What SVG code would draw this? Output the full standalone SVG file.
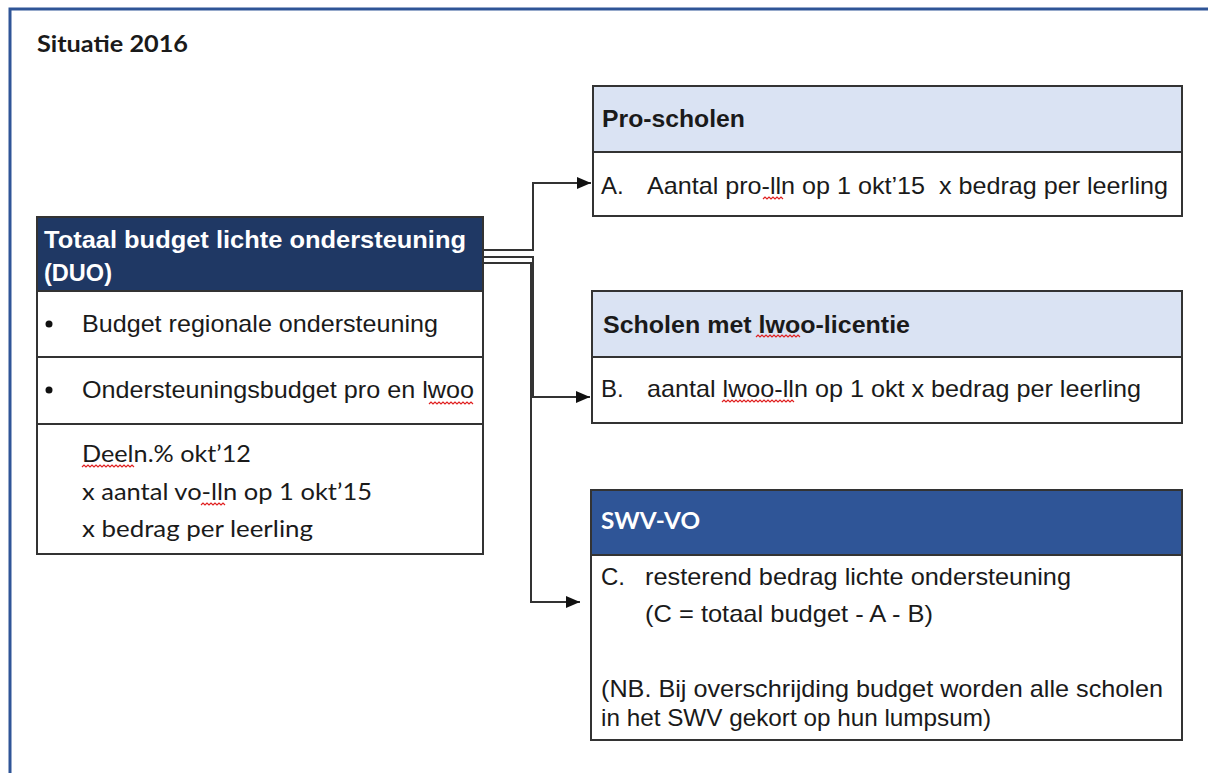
<svg xmlns="http://www.w3.org/2000/svg" width="1208" height="773" viewBox="0 0 1208 773">
<defs>
<marker id="arr" viewBox="0 0 14 12" refX="14" refY="6" markerWidth="14" markerHeight="12" markerUnits="userSpaceOnUse" orient="auto">
<path d="M0,0 L14,6 L0,12 Z" fill="#111"/>
</marker>
<style>
.box{fill:#fff;stroke:#333;stroke-width:2}
.hdark{fill:#1F3864;stroke:#333;stroke-width:2}
.hblue{fill:#2F5597;stroke:#333;stroke-width:2}
.hlight{fill:#DAE3F3;stroke:#333;stroke-width:2}
.ar{font-family:"Liberation Sans",Arial,sans-serif;font-size:24px;fill:#1a1a1a}
.arb{font-family:"Liberation Sans",Arial,sans-serif;font-size:24px;font-weight:bold;fill:#1a1a1a}
.cal{font-family:Lato,"Open Sans",sans-serif;font-size:23px;fill:#1a1a1a}
.calb{font-family:Lato,"Open Sans",sans-serif;font-size:23px;font-weight:bold;fill:#1a1a1a}
.w{fill:#fff}
.conn{fill:none;stroke:#333;stroke-width:2}
.sq{fill:none;stroke:#e02020;stroke-width:1.2}
</style>
</defs>
<rect width="1208" height="773" fill="#fff"/>
<path d="M10,773 V9 H1208" fill="none" stroke="#2F5597" stroke-width="3"/>
<text class="calb" x="37" y="52" textLength="151" lengthAdjust="spacingAndGlyphs">Situatie 2016</text>

<g id="connectors">
<path class="conn" d="M483,250 H533 V183 H591" marker-end="url(#arr)"/>
<path class="conn" d="M483,257 H533 V397 H590" marker-end="url(#arr)"/>
<path class="conn" d="M483,263 H531 V602 H580" marker-end="url(#arr)"/>
</g>

<g id="totaal">
<rect class="hdark" x="37" y="217" width="446" height="74"/>
<rect class="box" x="37" y="291" width="446" height="66"/>
<rect class="box" x="37" y="357" width="446" height="67"/>
<rect class="box" x="37" y="424" width="446" height="130"/>
<text class="arb w" x="44" y="248" textLength="422" lengthAdjust="spacingAndGlyphs">Totaal budget lichte ondersteuning</text>
<text class="arb w" x="44" y="281" textLength="68" lengthAdjust="spacingAndGlyphs">(DUO)</text>
<circle cx="49" cy="324" r="3.5" fill="#111"/>
<text class="ar" x="82" y="332" textLength="356" lengthAdjust="spacingAndGlyphs">Budget regionale ondersteuning</text>
<circle cx="49" cy="390" r="3.5" fill="#111"/>
<text class="ar" x="82" y="398" textLength="392" lengthAdjust="spacingAndGlyphs">Ondersteuningsbudget pro en lwoo</text>
<path class="sq" d="M429,404 l2,-2 l2,2 l2,-2 l2,2 l2,-2 l2,2 l2,-2 l2,2 l2,-2 l2,2 l2,-2 l2,2 l2,-2 l2,2 l2,-2 l2,2 l2,-2 l2,2 l2,-2 l2,2 l2,-2 l2,2"/>
<text class="cal" x="82" y="462" textLength="169" lengthAdjust="spacingAndGlyphs">Deeln.% okt’12</text>
<path class="sq" d="M82,467 l2,-2 l2,2 l2,-2 l2,2 l2,-2 l2,2 l2,-2 l2,2 l2,-2 l2,2 l2,-2 l2,2 l2,-2 l2,2 l2,-2 l2,2 l2,-2 l2,2 l2,-2 l2,2 l2,-2 l2,2 l2,-2 l2,2 l2,-2 l2,2"/>
<text class="cal" x="82" y="500" textLength="290" lengthAdjust="spacingAndGlyphs">x aantal vo-lln op 1 okt’15</text>
<path class="sq" d="M201,505 l2,-2 l2,2 l2,-2 l2,2 l2,-2 l2,2 l2,-2 l2,2 l2,-2 l2,2 l2,-2 l2,2"/>
<text class="cal" x="82" y="537" textLength="231" lengthAdjust="spacingAndGlyphs">x bedrag per leerling</text>
</g>

<g id="pro">
<rect class="hlight" x="593" y="86" width="589" height="66"/>
<rect class="box" x="593" y="152" width="589" height="64"/>
<text class="arb" x="602" y="127" textLength="143" lengthAdjust="spacingAndGlyphs">Pro-scholen</text>
<text class="ar" x="601" y="194">A.</text>
<text class="ar" x="647" y="194" textLength="521" lengthAdjust="spacingAndGlyphs" xml:space="preserve">Aantal pro-lln op 1 okt’15  x bedrag per leerling</text>
<path class="sq" d="M763,199 l2,-2 l2,2 l2,-2 l2,2 l2,-2 l2,2 l2,-2 l2,2 l2,-2 l2,2"/>
</g>

<g id="lwoo">
<rect class="hlight" x="592" y="291" width="590" height="66"/>
<rect class="box" x="592" y="357" width="590" height="66"/>
<text class="arb" x="603" y="333" textLength="307" lengthAdjust="spacingAndGlyphs">Scholen met lwoo-licentie</text>
<path class="sq" d="M756,337 l2,-2 l2,2 l2,-2 l2,2 l2,-2 l2,2 l2,-2 l2,2 l2,-2 l2,2 l2,-2 l2,2 l2,-2 l2,2 l2,-2 l2,2 l2,-2 l2,2 l2,-2 l2,2 l2,-2 l2,2"/>
<text class="ar" x="601" y="397">B.</text>
<text class="ar" x="647" y="397" textLength="494" lengthAdjust="spacingAndGlyphs">aantal lwoo-lln op 1 okt x bedrag per leerling</text>
<path class="sq" d="M722,402 l2,-2 l2,2 l2,-2 l2,2 l2,-2 l2,2 l2,-2 l2,2 l2,-2 l2,2 l2,-2 l2,2 l2,-2 l2,2 l2,-2 l2,2 l2,-2 l2,2 l2,-2 l2,2 l2,-2 l2,2 l2,-2 l2,2 l2,-2 l2,2 l2,-2 l2,2 l2,-2 l2,2 l2,-2 l2,2 l2,-2 l2,2 l2,-2 l2,2"/>
</g>

<g id="swv">
<rect class="hblue" x="591" y="490" width="591" height="65"/>
<rect class="box" x="591" y="555" width="591" height="185"/>
<text class="calb w" x="601" y="529" textLength="99" lengthAdjust="spacingAndGlyphs">SWV-VO</text>
<text class="ar" x="601" y="585">C.</text>
<text class="ar" x="645" y="585" textLength="426" lengthAdjust="spacingAndGlyphs">resterend bedrag lichte ondersteuning</text>
<text class="ar" x="645" y="622" textLength="288" lengthAdjust="spacingAndGlyphs">(C = totaal budget - A - B)</text>
<text class="ar" x="601" y="697" textLength="562" lengthAdjust="spacingAndGlyphs">(NB. Bij overschrijding budget worden alle scholen</text>
<text class="ar" x="601" y="726" textLength="390" lengthAdjust="spacingAndGlyphs">in het SWV gekort op hun lumpsum)</text>
</g>
</svg>
